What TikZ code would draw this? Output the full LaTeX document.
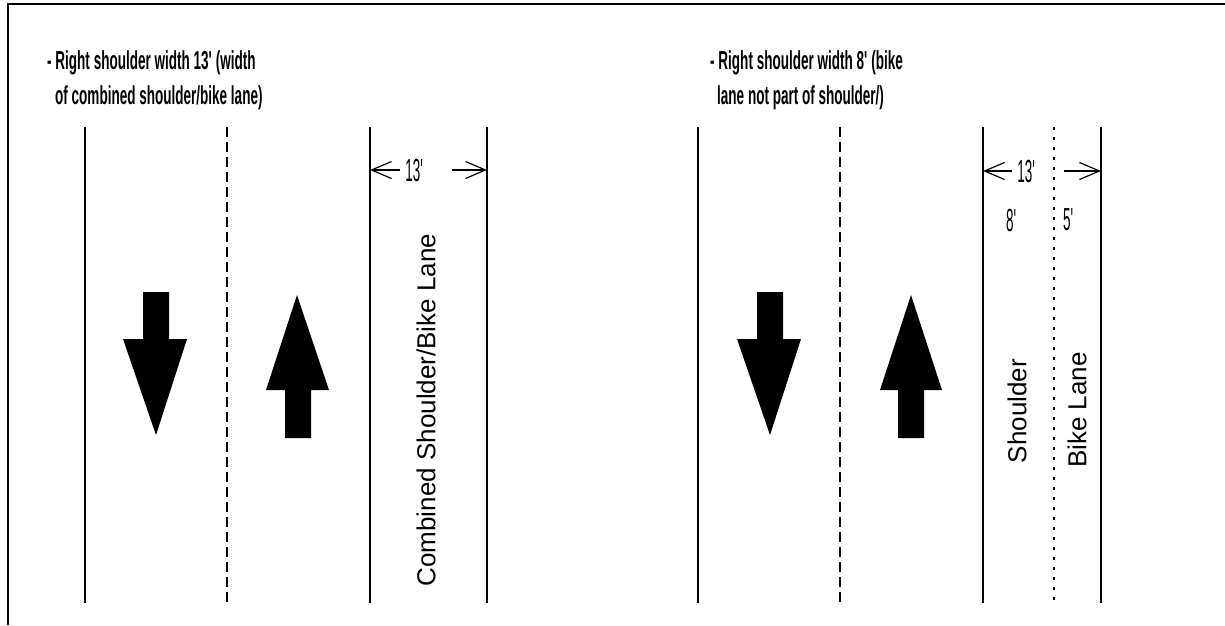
\documentclass[tikz,border=0pt]{standalone}
\usepackage{fontspec}
\setmainfont{Liberation Sans}
\newfontfamily\headfont[FakeStretch=0.52]{Liberation Sans}
\newfontfamily\dimfont[FakeStretch=0.42]{Liberation Sans}
\usetikzlibrary{arrows.meta}
\begin{document}
\begin{tikzpicture}[x=1pt,y=-1pt,
  frameline/.style={line width=2pt},
  roadline/.style={line width=1.4pt},
  laneline/.style={line width=1.4pt, dash pattern=on 10pt off 5pt},
  bikeline/.style={line width=2pt, dash pattern=on 3pt off 7pt},
  dimtip/.style={line width=1.2pt, -{Straight Barb[length=20pt,width=17pt,line width=1.2pt]}},
  dimtext/.style={inner sep=0pt, font=\dimfont\fontsize{32}{34}\selectfont},
  headtext/.style={inner sep=0pt, anchor=base west, font=\headfont\bfseries\fontsize{26}{30}\selectfont},
  lanetext/.style={inner sep=0pt, rotate=90, font=\fontsize{26}{30}\selectfont},
  blockarrow/.style={fill=black}
]
\useasboundingbox (0,0) rectangle (1225,625);
% frame
\coordinate (fr1) at (1225,4);
\coordinate (fr2) at (8,4);
\coordinate (fr3) at (8,625);
\draw[frameline] (fr1) -- (fr2) -- (fr3);

% ---------- left panel ----------
\node[headtext] (hl1) at (47,69) {- Right shoulder width 13\textquotesingle\hspace{1pt}(width};
\node[headtext] (hl2) at (55,104) {of combined shoulder/bike lane)};

\coordinate (la1) at (85,127);  \coordinate (lb1) at (85,603);
\coordinate (la2) at (227,127); \coordinate (lb2) at (227,603);
\coordinate (la3) at (370,127); \coordinate (lb3) at (370,603);
\coordinate (la4) at (487,127); \coordinate (lb4) at (487,603);
\draw[roadline] (la1) -- (lb1);
\draw[laneline] (la2) -- (lb2);
\draw[roadline] (la3) -- (lb3);
\draw[roadline] (la4) -- (lb4);

\coordinate (ldl) at (370,170);
\coordinate (ldr) at (487,170);
\node[dimtext] (ld) at (416,170) {13\textquotesingle};
\draw[dimtip, shorten <=5pt] (ld.west) -- (ldl);
\draw[dimtip, shorten <=25pt] (ld.east) -- (ldr);

\fill[blockarrow] (143,292) -- (169,292) -- (169,339) -- (187,339) -- (156,435) -- (123,339) -- (143,339) -- cycle;
\fill[blockarrow] (285,438) -- (311,438) -- (311,390) -- (329,390) -- (297,295) -- (266,390) -- (285,390) -- cycle;

\node[lanetext] (lc) at (426,410) {Combined Shoulder/Bike Lane};

% ---------- right panel ----------
\node[headtext] (hr1) at (710,69) {- Right shoulder width 8\textquotesingle\hspace{1pt}(bike};
\node[headtext] (hr2) at (717,104) {lane not part of shoulder/)};

\coordinate (ra1) at (698,127);  \coordinate (rb1) at (698,603);
\coordinate (ra2) at (840,127);  \coordinate (rb2) at (840,603);
\coordinate (ra3) at (983,127);  \coordinate (rb3) at (983,603);
\coordinate (ra4) at (1054,127); \coordinate (rb4) at (1054,603);
\coordinate (ra5) at (1101,127); \coordinate (rb5) at (1101,603);
\draw[roadline] (ra1) -- (rb1);
\draw[laneline] (ra2) -- (rb2);
\draw[roadline] (ra3) -- (rb3);
\draw[bikeline] (ra4) -- (rb4);
\draw[roadline] (ra5) -- (rb5);

\coordinate (rdl) at (983,171);
\coordinate (rdr) at (1101,171);
\node[dimtext] (rd) at (1028,171) {13\textquotesingle};
\draw[dimtip, shorten <=5pt] (rd.west) -- (rdl);
\draw[dimtip, shorten <=25pt] (rd.east) -- (rdr);
\node[dimtext] (r8) at (1013,220) {8\textquotesingle};
\node[dimtext] (r5) at (1070,220) {5\textquotesingle};

\fill[blockarrow] (757,292) -- (783,292) -- (783,339) -- (801,339) -- (770,435) -- (737,339) -- (757,339) -- cycle;
\fill[blockarrow] (898,438) -- (924,438) -- (924,390) -- (942,390) -- (911,295) -- (880,390) -- (898,390) -- cycle;

\node[lanetext] (rs) at (1017,411) {Shoulder};
\node[lanetext] (rbk) at (1077,410) {Bike Lane};
\end{tikzpicture}
\end{document}
